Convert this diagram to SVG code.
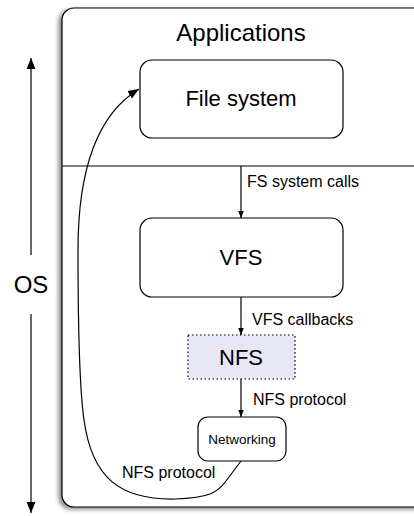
<svg xmlns="http://www.w3.org/2000/svg" width="414" height="516" viewBox="0 0 414 516">
  <style>
    text { font-family: "Liberation Sans", Arial, sans-serif; fill: #000; }
    .box { fill: #fff; stroke: #000; stroke-width: 1.2; }
    .edge { fill: none; stroke: #000; stroke-width: 1.2; }
    .lbl { font-size: 16px; }
    .big { font-size: 22px; text-anchor: middle; }
    .huge { font-size: 24px; text-anchor: middle; }
  </style>
  <defs>
    <marker id="ah" viewBox="0 0 10 10" refX="10" refY="5" markerWidth="7" markerHeight="7" markerUnits="userSpaceOnUse" orient="auto">
      <path d="M0,1 L10,5 L0,9 Z" fill="#000"/>
    </marker>
    <marker id="ahBig" viewBox="0 0 10 10" refX="10" refY="5" markerWidth="11" markerHeight="11" markerUnits="userSpaceOnUse" orient="auto">
      <path d="M0,1 L10,5 L0,9 Z" fill="#000"/>
    </marker>
    <filter id="shadow" x="-10%" y="-10%" width="120%" height="120%">
      <feDropShadow dx="-3" dy="2" stdDeviation="2" flood-color="#000" flood-opacity="0.45"/>
    </filter>
  </defs>

  <!-- OS scale on the left -->
  <g id="os">
    <line class="edge" x1="31" y1="255" x2="31" y2="58" marker-end="url(#ahBig)"/>
    <line class="edge" x1="31" y1="314" x2="31" y2="513" marker-end="url(#ahBig)"/>
    <text class="huge" x="31" y="293">OS</text>
  </g>

  <!-- Outer frame with the application / kernel split -->
  <g id="frame">
    <rect x="62" y="8" width="380" height="499" rx="12" ry="12" fill="#fff" stroke="#000" stroke-width="1.2" filter="url(#shadow)"/>
    <line x1="62" y1="166" x2="414" y2="166" stroke="#000" stroke-width="1.2"/>
    <text class="huge" x="241" y="41">Applications</text>
  </g>

  <g id="filesystem">
    <rect class="box" x="140" y="60" width="203" height="78" rx="12" ry="12"/>
    <text class="big" x="241" y="106">File system</text>
  </g>

  <g id="vfs">
    <rect class="box" x="140" y="218" width="203" height="79" rx="12" ry="12"/>
    <text class="big" x="241" y="265">VFS</text>
  </g>

  <g id="nfs">
    <rect x="188" y="335" width="107" height="44" fill="#e6e6f5" stroke="#000" stroke-width="1.2" stroke-dasharray="1.5,2.5"/>
    <text class="big" x="241" y="365">NFS</text>
  </g>

  <g id="networking">
    <rect class="box" x="198" y="417" width="88" height="44" rx="10" ry="10"/>
    <text x="242" y="444" text-anchor="middle" style="font-size:13.5px">Networking</text>
  </g>

  <g id="connectors">
    <line class="edge" x1="241" y1="166" x2="241" y2="218" marker-end="url(#ah)"/>
    <text class="lbl" x="247" y="187">FS system calls</text>
    <line class="edge" x1="241" y1="297" x2="241" y2="335" marker-end="url(#ah)"/>
    <text class="lbl" x="252" y="325">VFS callbacks</text>
    <line class="edge" x1="241" y1="379" x2="241" y2="417" marker-end="url(#ah)"/>
    <text class="lbl" x="253" y="405">NFS protocol</text>
    <path class="edge" d="M241,461 L226,481 C218,492 210,498 175,499 C120,500 92,478 84,420 C79,385 78,300 78,250 C78,190 88,120 139,89" marker-end="url(#ahBig)"/>
    <text class="lbl" x="122" y="478">NFS protocol</text>
  </g>
</svg>
